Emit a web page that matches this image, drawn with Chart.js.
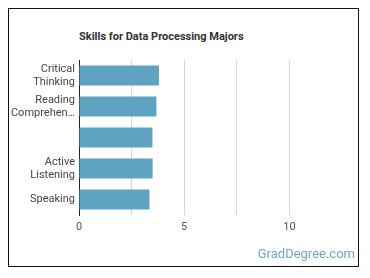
<!DOCTYPE html>
<html>
<head>
<meta charset="utf-8">
<script src="https://cdn.jsdelivr.net/npm/chart.js@4/dist/chart.umd.min.js"></script>
<style>
  html, body { margin: 0; padding: 0; background: #fff; }
  #wrap { position: relative; width: 370px; height: 278px; overflow: hidden; }
  #frame { position: absolute; left: 8px; top: 8px; width: 349px; height: 257px; border: 1.5px solid #111; }
  #title { position: absolute; left: 79px; top: 30px; font: bold 11px Roboto, sans-serif; color: #333; }
  #credit { position: absolute; right: 15px; top: 246px; font: 13px Roboto, sans-serif; color: #6fa6c6; }
  #myChart { position: absolute; left: 0; top: 0; }
</style>
</head>
<body>
<div id="wrap">
  <div id="frame"></div>
  <div id="title">Skills for Data Processing Majors</div>
  <canvas id="myChart" width="370" height="278"></canvas>
  <div id="credit">GradDegree.com</div>
</div>
<script>
const skills = [['Critical', 'Thinking'], ['Reading', 'Comprehen…'], '', ['Active', 'Listening'], 'Speaking']
const scores = [3.8, 3.68, 3.49, 3.5, 3.35]
const xTicks = [0, 5, 10]

const ctx = document.getElementById('myChart')

const myChart = new Chart(ctx, {
    type: 'bar',
    data: {
      labels: skills,
      datasets: [{
        data: scores,
        backgroundColor: '#5ea3c1',
        borderWidth: 0,
        categoryPercentage: 0.65,
        barPercentage: 1
      }]
    },
    options: {
      indexAxis: 'y',
      responsive: false,
      animation: false,
      layout: { padding: { top: 60, right: 28, left: 0, bottom: 0 } },
      plugins: { legend: { display: false }, tooltip: { enabled: false } },
      scales: {
        x: {
          min: 0,
          max: 12.5,
          afterFit: (axis) => { axis.height = 63 },
          ticks: {
            stepSize: 2.5,
            padding: 6,
            color: '#555',
            font: { family: 'Roboto', size: 11 },
            callback: (v) => xTicks.includes(v) ? String(v) : ''
          },
          grid: {
            drawTicks: false,
            color: (c) => (c.tick && c.tick.value > 0 && c.tick.value < 12.5) ? '#d6d6d6' : 'rgba(0,0,0,0)'
          },
          border: { display: false }
        },
        y: {
          afterFit: (axis) => { axis.width = 79 },
          ticks: {
            padding: 4,
            color: '#444',
            font: { family: 'Roboto', size: 11, lineHeight: 1.15 }
          },
          grid: { display: false, drawTicks: false },
          border: { display: true, color: '#222', width: 1 }
        }
      }
    }
  }
)
</script>
</body>
</html>
